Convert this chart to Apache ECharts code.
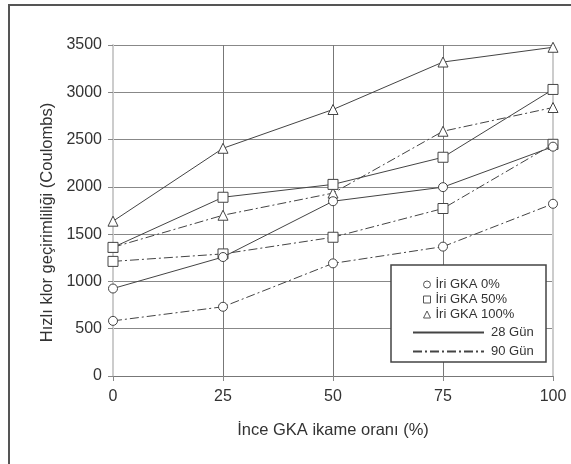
<!DOCTYPE html>
<html>
<head>
<meta charset="utf-8">
<script src="https://cdn.jsdelivr.net/npm/echarts@6/dist/echarts.min.js"></script>
<style>html,body{margin:0;padding:0;background:#fff}#c{width:571px;height:464px}</style>
</head>
<body>
<div id="c"></div>
<script>
// Data
var xValues = [0, 25, 50, 75, 100];
var gka0_28 = [925, 1258, 1848, 1997, 2425];
var gka50_28 = [1360, 1890, 2026, 2313, 3030];
var gka100_28 = [1637, 2408, 2818, 3320, 3476];
var gka0_90 = [583, 732, 1191, 1368, 1821];
var gka50_90 = [1212, 1291, 1467, 1771, 2450];
var gka100_90 = [1361, 1700, 1934, 2588, 2839];
var groupNames = ['İri GKA 0%', 'İri GKA 50%', 'İri GKA 100%'];
var ageNames = ['28 Gün', '90 Gün'];

var FONT = 'Liberation Sans, Arial, sans-serif';
var LINE = '#444';
var DASHDOT = [9, 3, 2, 3];

function pairs(vals) { return xValues.map(function (x, i) { return [x, vals[i]]; }); }

function mk(name, vals, symbol, size, dashed) {
  return {
    name: name, type: 'line', data: pairs(vals), symbol: symbol, symbolSize: size,
    showAllSymbol: true, animation: false,
    lineStyle: { color: LINE, width: 1, type: dashed ? DASHDOT : 'solid' },
    itemStyle: { color: '#fff', borderColor: LINE, borderWidth: 1 },
    z: dashed ? 3 : 4
  };
}

var series = [
  mk('s0_90', gka0_90, 'circle', 9, true),
  mk('s50_90', gka50_90, 'rect', 10, true),
  mk('s100_90', gka100_90, 'triangle', 10, true),
  mk('s0_28', gka0_28, 'circle', 9, false),
  mk('s50_28', gka50_28, 'rect', 10, false),
  mk('s100_28', gka100_28, 'triangle', 10, false)
];
// legend-only series
var legSymbols = ['circle', 'rect', 'triangle'];
groupNames.forEach(function (n, i) {
  series.push({ name: n, type: 'line', data: [], symbol: legSymbols[i],
    itemStyle: { color: '#fff', borderColor: LINE, borderWidth: 1 }, lineStyle: { color: LINE } });
});
series.push({ name: ageNames[0], type: 'line', data: [], symbol: 'none', lineStyle: { color: LINE, width: 1, type: 'solid' }, itemStyle: { color: LINE } });
series.push({ name: ageNames[1], type: 'line', data: [], symbol: 'none', lineStyle: { color: LINE, width: 1, type: DASHDOT }, itemStyle: { color: LINE } });

var chart = echarts.init(document.getElementById('c'), null, { renderer: 'canvas' });
chart.setOption({
  animation: false,
  backgroundColor: '#fff',
  textStyle: { fontFamily: FONT },
  grid: { left: 113, right: 18, top: 45, bottom: 88, containLabel: false },
  xAxis: {
    type: 'value', min: 0, max: 100, interval: 25,
    name: 'İnce GKA ikame oranı (%)', nameLocation: 'middle', nameGap: 46,
    nameTextStyle: { fontSize: 16.5, color: '#333', fontFamily: FONT },
    axisLine: { show: true, lineStyle: { color: '#777', width: 1 } },
    axisTick: { show: true, length: 5, inside: false, lineStyle: { color: '#888' } },
    axisLabel: { fontSize: 16, color: '#333', margin: 13, fontFamily: FONT },
    splitLine: { show: true, showMinLine: true, showMaxLine: true, lineStyle: { color: ['rgba(0,0,0,0)', '#777', '#777', '#777', 'rgba(0,0,0,0)'], width: 1 } }
  },
  yAxis: [{
    type: 'value', min: 0, max: 3500, interval: 500,
    name: 'Hızlı klor geçirimliliği (Coulombs)', nameLocation: 'middle', nameGap: 52,
    nameTextStyle: { fontSize: 16.5, color: '#333', fontFamily: FONT, padding: [0, 24, 0, 0] },
    axisLine: { show: true, lineStyle: { color: '#ccc', width: 2 } },
    axisTick: { show: true, length: 5, lineStyle: { color: '#888' } },
    axisLabel: { fontSize: 16, color: '#333', margin: 11, fontFamily: FONT, formatter: function (v) { return String(v); } },
    splitLine: { show: true, lineStyle: { color: '#888', width: 1 } }
  }, {
    type: 'value', min: 0, max: 3500, interval: 500, position: 'right',
    axisLine: { show: true, lineStyle: { color: '#ccc', width: 2 } },
    axisTick: { show: false }, axisLabel: { show: false }, splitLine: { show: false }
  }],
  legend: [
    {
      data: groupNames.map(function (n, i) {
        return { name: n, icon: legSymbols[i], itemStyle: { color: '#fff', borderColor: '#555', borderWidth: 1 } };
      }),
      orient: 'vertical', left: 418, top: 273, itemWidth: 7, itemHeight: 7, itemGap: 2,
      selectedMode: false, z: 10,
      textStyle: { fontSize: 13, color: '#333', fontFamily: FONT }
    },
    {
      data: ageNames.map(function (n) {
        return { name: n, itemStyle: { opacity: 0, color: 'rgba(0,0,0,0)', borderWidth: 0 } };
      }),
      orient: 'vertical', left: 407, top: 321, itemWidth: 71, itemHeight: 10, itemGap: 6,
      selectedMode: false, z: 10,
      textStyle: { fontSize: 13, color: '#333', fontFamily: FONT, padding: [0, 0, 0, 2] }
    }
  ],
  graphic: [
    { type: 'rect', z: 8, shape: { x: 391, y: 265, width: 155, height: 97 },
      style: { fill: '#fff', stroke: '#444', lineWidth: 1.5 } },
    { type: 'rect', z: 8, shape: { x: 9, y: 5, width: 700, height: 600 },
      style: { fill: 'none', stroke: '#555', lineWidth: 2 } }
  ],
  series: series
});
</script>
</body>
</html>
